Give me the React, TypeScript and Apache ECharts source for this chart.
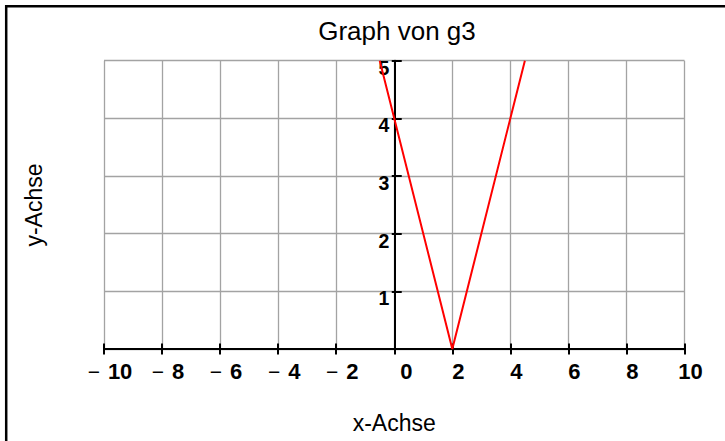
import React, { useEffect, useRef } from "react";
import * as echarts from "echarts";

// g3(x) = 2·|x − 2|, drawn between the points where it leaves the window at y = 5
const g3X = [-0.5, 2, 4.5];
const g3Y = [5, 0, 5];

const titleText = "Graph von g3";
const xAxisName = "x-Achse";
const yAxisName = "y-Achse";

const xRange = { min: -10, max: 10, step: 2 };
const yRange = { min: 0, max: 5, step: 1 };

const FONT = "'Liberation Sans', Arial, Helvetica, sans-serif";

// grid geometry; the y axis is moved from the grid's left edge to x = 0
const GRID_LEFT = 104;
const GRID_RIGHT = 40.5;
const CHART_W = 725;
const Y_AXIS_SHIFT = -((CHART_W - GRID_LEFT - GRID_RIGHT) * (0 - xRange.min)) / (xRange.max - xRange.min);

export default function App() {
  const ref = useRef<HTMLDivElement>(null);

  useEffect(() => {
    if (!ref.current) return;
    const chart = echarts.init(ref.current, null, { renderer: "svg" });

    const points = g3X.map((x, i) => [x, g3Y[i]]);

    const gridColor = "#a3a3a3";

    const xLabelFormatter = (v: number) => {
      if (v < 0) return `{m|\u2212}{b|${-v}}`;
      if (v === 0) return `{z|0}`;
      return `{p|${v}}`;
    };

    const option: echarts.EChartsOption = {
      animation: false,
      backgroundColor: "#ffffff",
      textStyle: { fontFamily: FONT },
      title: {
        text: titleText,
        left: 392,
        textAlign: "center",
        top: 13,
        textStyle: { fontFamily: FONT, fontSize: 26, fontWeight: "normal", color: "#000" },
      },
      grid: { left: GRID_LEFT, right: GRID_RIGHT, top: 60.7, bottom: 92, containLabel: false },
      xAxis: [
        {
          type: "value",
          min: xRange.min,
          max: xRange.max,
          interval: xRange.step,
          position: "bottom",
          name: xAxisName,
          nameLocation: "middle",
          nameGap: 62,
          nameTextStyle: { fontFamily: FONT, fontSize: 23, color: "#000" },
          axisLine: { show: true, onZero: false, lineStyle: { color: "#000", width: 2 } },
          axisTick: { show: true, inside: true, length: 5.5, lineStyle: { color: "#000", width: 2 } },
          axisLabel: {
            show: true,
            margin: 11,
            formatter: xLabelFormatter,
            rich: {
              m: { fontFamily: FONT, fontSize: 21, fontWeight: "normal", color: "#000", padding: [0, 8, 0, 12] },
              b: { fontFamily: FONT, fontSize: 22, fontWeight: "bold", color: "#000" },
              p: { fontFamily: FONT, fontSize: 22, fontWeight: "bold", color: "#000", padding: [0, 0, 0, 12] },
              z: { fontFamily: FONT, fontSize: 22, fontWeight: "bold", color: "#000", padding: [0, 0, 0, 24] },
            },
          },
          splitLine: { show: true, lineStyle: { color: gridColor, width: 1.3 } },
        },
        {
          // companion axis: the outer half of the crossing tick marks
          type: "value",
          min: xRange.min,
          max: xRange.max,
          interval: xRange.step,
          position: "bottom",
          axisLine: { show: false, onZero: false },
          axisTick: { show: true, inside: false, length: 5.5, lineStyle: { color: "#000", width: 2 } },
          axisLabel: { show: false },
          splitLine: { show: false },
        },
      ],
      yAxis: [
        {
          type: "value",
          min: yRange.min,
          max: yRange.max,
          interval: yRange.step,
          position: "left",
          offset: Y_AXIS_SHIFT,
          axisLine: { show: true, onZero: false, lineStyle: { color: "#000", width: 2 } },
          axisTick: { show: true, inside: true, length: 7.5, lineStyle: { color: "#000", width: 2 } },
          axisLabel: {
            show: true,
            showMinLabel: false,
            margin: 5,
            verticalAlign: "top",
            fontSize: 19.5,
            fontWeight: "bold",
            fontFamily: FONT,
            color: "#000",
            lineHeight: 14,
          },
          splitLine: { show: true, lineStyle: { color: gridColor, width: 1.3 } },
        },
        {
          // companion axis at x = 0: the short outer part of the tick marks
          type: "value",
          min: yRange.min,
          max: yRange.max,
          interval: yRange.step,
          position: "left",
          offset: Y_AXIS_SHIFT,
          axisLine: { show: false, onZero: false },
          axisTick: { show: true, inside: false, length: 2.5, lineStyle: { color: "#000", width: 2 } },
          axisLabel: { show: false },
          splitLine: { show: false },
        },
      ],
      series: [
        {
          type: "line",
          data: points,
          showSymbol: false,
          clip: true,
          lineStyle: { color: "#ff0000", width: 2 },
          itemStyle: { color: "#ff0000" },
          z: 5,
        },
      ],
      graphic: [
        {
          type: "text",
          x: 34,
          y: 205,
          rotation: Math.PI / 2,
          style: {
            text: yAxisName,
            fontFamily: FONT,
            fontSize: 23,
            fill: "#000",
            align: "center",
            verticalAlign: "middle",
          },
        },
        {
          type: "rect",
          shape: { x: 6.2, y: 6.2, width: 760, height: 480 },
          style: { fill: "none", stroke: "#000", lineWidth: 2.5 },
          silent: true,
        },
      ],
    };

    chart.setOption(option);
    return () => chart.dispose();
  }, []);

  return (
    <div
      ref={ref}
      style={{ position: "fixed", left: 0, top: 0, width: CHART_W, height: 441 }}
    />
  );
}
